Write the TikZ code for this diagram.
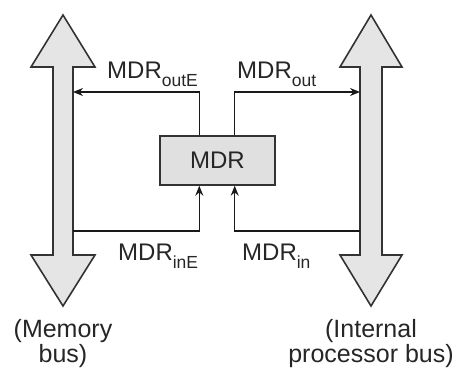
\documentclass[tikz,border=0pt]{standalone}
\usepackage{fontspec}
\setmainfont{Liberation Sans}
\usetikzlibrary{arrows.meta}

\newcommand{\sig}[2]{#1\raisebox{-8pt}{\fontsize{17.5}{17.5}\selectfont #2}}

\begin{document}
\begin{tikzpicture}[x=1pt,y=-1pt,
  bus/.style={draw=black!80, fill=black!10, line width=1.6pt, line join=miter},
  regbox/.style={draw=black!80, fill=black!12, line width=1.4pt, minimum width=115pt,
    minimum height=49pt, inner sep=0pt, font=\fontsize{24}{26}\selectfont, text=black!85},
  wire/.style={draw=black!90, line width=1.3pt, -{Stealth[length=10pt,width=8pt]}},
  lbl/.style={inner sep=0pt, font=\fontsize{24}{26}\selectfont, text=black!85},
  buslbl/.style={inner sep=0pt, align=center, font=\fontsize{25}{25}\selectfont, text=black!85}]
\useasboundingbox (0,0) rectangle (457,367);

% memory bus (left) and internal processor bus (right), both bidirectional
\draw[bus] (63,15) -- (95,67) -- (73,67) -- (73,255) -- (95,255) -- (63,306)
  -- (31,255) -- (53,255) -- (53,67) -- (31,67) -- cycle;
\draw[bus] (371,15) -- (402,67) -- (382,67) -- (382,255) -- (402,255) -- (371,306)
  -- (340,255) -- (360,255) -- (360,67) -- (340,67) -- cycle;

% memory data register
\node[regbox] (mdr) at (217.5,160.5) {MDR};

% attachment points on the bus edges
\coordinate (memout) at (73,92);
\coordinate (cpuout) at (360,92);
\coordinate (memin) at (73,231);
\coordinate (cpuin) at (360,231);

% gated paths
\draw[wire] ([xshift=40pt]mdr.north west) |- (memout);
\draw[wire] ([xshift=-41pt]mdr.north east) |- (cpuout);
\draw[wire] (memin) -| ([xshift=40pt]mdr.south west);
\draw[wire] (cpuin) -| ([xshift=-41pt]mdr.south east);

% control signal names
\node[lbl, anchor=base west] (loutE) at (107,78) {\sig{MDR}{outE}};
\node[lbl, anchor=base west] (lout) at (237,78) {\sig{MDR}{out}};
\node[lbl, anchor=base west] (linE) at (118,260) {\sig{MDR}{inE}};
\node[lbl, anchor=base west] (lin) at (242,260) {\sig{MDR}{in}};

% bus names
\node[buslbl, anchor=north] (mbus) at (63,319) {(Memory\\bus)};
\node[buslbl, anchor=north] (pbus) at (371,319) {(Internal\\processor bus)};
\end{tikzpicture}
\end{document}
